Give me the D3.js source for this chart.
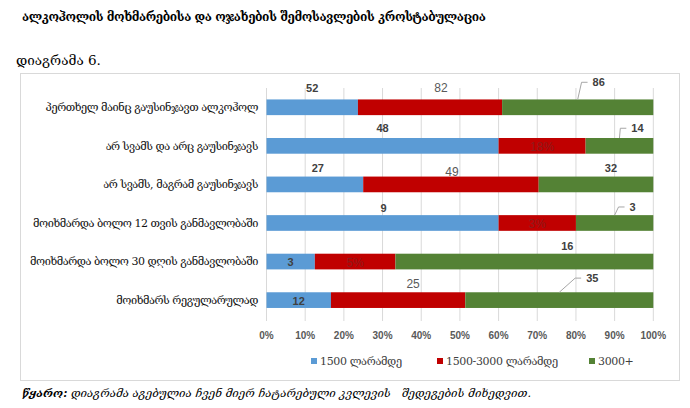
<!DOCTYPE html>
<html>
<head>
<meta charset="utf-8">
<script src="https://cdn.jsdelivr.net/npm/d3@7/dist/d3.min.js"></script>
<style>
  body { margin: 0; background: #fff; }
  .geo { font-family: "DejaVu Serif", serif; }
  .num { font-family: "Liberation Sans", Arial, sans-serif; }
</style>
</head>
<body>
<svg id="chart" width="690" height="408"></svg>
<script>
// categories (top to bottom)
const categories = [
  "პერთხელ მაინც გაუსინჯავთ ალკოჰოლ",
  "არ სვამს და არც გაუსინჯავს",
  "არ სვამს, მაგრამ გაუსინჯავს",
  "მოიხმარდა ბოლო 12 თვის განმავლობაში",
  "მოიხმარდა ბოლო 30 დღის განმავლობაში",
  "მოიხმარს რეგულარულად"
];
const seriesNames = ["1500 ლარამდე", "1500-3000 ლარამდე", "3000+"];

// counts per income group (bars are shown as share of row total)
const low = [52, 48, 27, 9, 3, 12];
const mid = [82, 18, 49, 3, 5, 25];
const high = [86, 14, 32, 3, 16, 35];

// data label texts as printed on the chart
const lowLabels = ["52", "48", "27", "9", "3", "12"];
const midLabels = ["82", "18%", "49", "3%", "5%", "25"];
const highLabels = ["86", "14", "32", "3", "16", "35"];

const tickValues = [0, 0.1, 0.2, 0.3, 0.4, 0.5, 0.6, 0.7, 0.8, 0.9, 1];

// layout: manual label nudges [dx, dy, leader] per series per row
const nudges = [
  [[0, -19], [0, -17.6], [3, -16], [1, -14.6], [0, 1], [0, 1]],
  [[11, -19], [0, 1], [1, -13], [0, 1], [0, 1], [15, -16]],
  [[21, -25, true], [18, -17.6, true], [15, -16], [18, -16, true], [43, -15], [33, -22, true]]
];
const colors = ["#5B9BD5", "#C00000", "#548235"];

const svg = d3.select("#chart");
svg.append("rect").attr("width", 690).attr("height", 408).attr("fill", "#fff");

// frame
svg.append("rect")
  .attr("x", 20.5).attr("y", 73.5)
  .attr("width", 659).attr("height", 307)
  .attr("fill", "none").attr("stroke", "#d9d9d9");

svg.append("text").attr("class", "geo")
  .attr("x", 22).attr("y", 21)
  .style("font-size", "12px").style("font-weight", "bold")
  .style("letter-spacing", "-0.45px")
  .text("ალკოჰოლის მოხმარებისა და ოჯახების შემოსავლების კროსტაბულაცია");

svg.append("text").attr("class", "geo")
  .attr("x", 16).attr("y", 65)
  .style("font-size", "13.5px")
  .text("დიაგრამა 6.");

const x = d3.scaleLinear().domain([0, 1]).range([266.5, 653.3]);
const y = d3.scaleBand().domain(categories).range([88, 319.4])
  .paddingInner(0.593).paddingOuter(0.2965);

// gridlines
svg.append("g").selectAll("line").data(tickValues).join("line")
  .attr("x1", d => x(d)).attr("x2", d => x(d))
  .attr("y1", 88).attr("y2", 321)
  .attr("stroke", "#d9d9d9").attr("stroke-width", 1);

// tick labels
svg.append("g").selectAll("text").data(tickValues).join("text")
  .attr("class", "num")
  .attr("x", d => x(d)).attr("y", 338.5)
  .attr("text-anchor", "middle")
  .style("font-size", "10px").style("font-weight", "bold").style("fill", "#595959")
  .text(d => d3.format(".0%")(d));

// category labels
svg.append("g").selectAll("text").data(categories).join("text")
  .attr("class", "geo")
  .attr("x", 258).attr("y", d => y(d) + y.bandwidth() / 2)
  .attr("dy", "0.35em")
  .attr("text-anchor", "end")
  .style("font-size", "11px").style("letter-spacing", "-0.45px").style("fill", "#111")
  .text(d => d);

// stacked (normalised) data
const rows = categories.map((c, i) => ({ cat: c, low: low[i], mid: mid[i], high: high[i] }));
const stack = d3.stack().keys(["low", "mid", "high"]).offset(d3.stackOffsetExpand);
const series = stack(rows);
const labelSets = [lowLabels, midLabels, highLabels];

const g = svg.append("g");
series.forEach((s, si) => {
  g.append("g").selectAll("rect").data(s).join("rect")
    .attr("x", d => x(d[0]))
    .attr("width", d => x(d[1]) - x(d[0]))
    .attr("y", d => y(d.data.cat))
    .attr("height", y.bandwidth())
    .attr("fill", colors[si]);
});

// data labels
series.forEach((s, si) => {
  s.forEach((d, i) => {
    const n = nudges[si][i];
    const cx = x((d[0] + d[1]) / 2);
    const cy = y(d.data.cat) + y.bandwidth() / 2;
    const lx = cx + n[0], ly = cy + n[1];
    const inside = Math.abs(n[1]) < 3;
    const bold = si !== 1;
    const t = svg.append("text").attr("class", "num")
      .attr("x", lx).attr("y", ly).attr("dy", "0.35em")
      .attr("text-anchor", "middle")
      .style("font-size", bold ? "11px" : "12px")
      .style("font-weight", bold ? "bold" : "normal")
      .style("fill", si === 1 && inside ? "#8e1b1b" : (bold ? "#404040" : "#595959"))
      .text(labelSets[si][i]);
    if (n[2]) {
      const w = t.node().getComputedTextLength();
      const left = lx - w / 2;
      svg.append("polyline")
        .attr("points", [[cx, y(d.data.cat)], [left - 11, ly], [left - 5, ly]].map(p => p.join(",")).join(" "))
        .attr("fill", "none").attr("stroke", "#a6a6a6").attr("stroke-width", 1);
    }
  });
});

// legend
const legendX = [311, 437, 589];
const lg = svg.append("g").selectAll("g").data(seriesNames).join("g")
  .attr("transform", (d, i) => `translate(${legendX[i]},361)`);
lg.append("rect").attr("x", 0).attr("y", -3).attr("width", 6).attr("height", 6)
  .attr("fill", (d, i) => colors[i]);
lg.append("text").attr("class", "geo")
  .attr("x", 9).attr("dy", "0.35em")
  .style("font-size", "11px").style("letter-spacing", "-0.35px").style("fill", "#404040")
  .text(d => d);

// source note
const src = svg.append("text").attr("class", "geo")
  .attr("x", 22).attr("y", 397)
  .style("font-size", "11.4px").style("font-style", "italic");
src.append("tspan").style("font-weight", "bold").text("წყარო:");
src.append("tspan").text(" დიაგრამა აგებულია ჩვენ მიერ ჩატარებული კვლევის   შედეგების მიხედვით.")
  .attr("xml:space", "preserve");
</script>
</body>
</html>
